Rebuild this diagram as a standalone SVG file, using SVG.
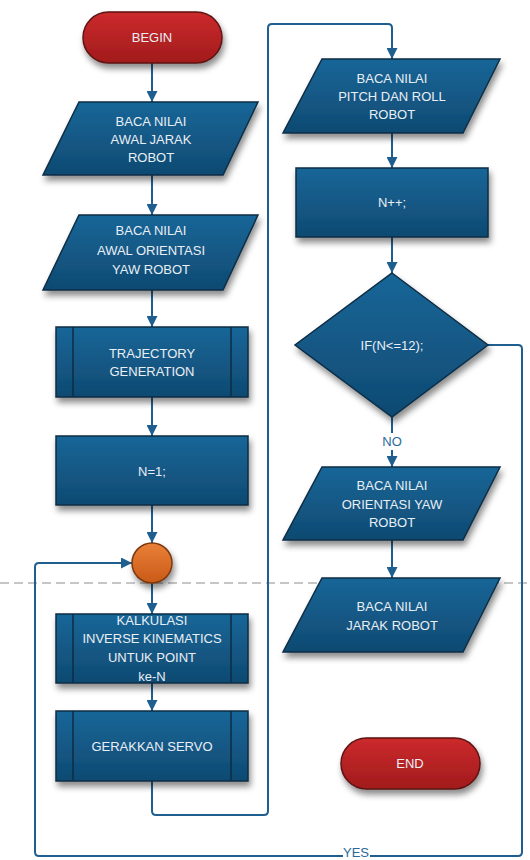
<svg xmlns="http://www.w3.org/2000/svg" width="530" height="860" viewBox="0 0 530 860">
  <defs>
    <linearGradient id="blueFill" x1="0" y1="0" x2="0" y2="1">
      <stop offset="0" stop-color="#186698"/>
      <stop offset="1" stop-color="#0f4a72"/>
    </linearGradient>
    <linearGradient id="redFill" x1="0" y1="0" x2="0" y2="1">
      <stop offset="0" stop-color="#cc2a2c"/>
      <stop offset="1" stop-color="#a11b1c"/>
    </linearGradient>
    <linearGradient id="orangeFill" x1="0" y1="0" x2="0" y2="1">
      <stop offset="0" stop-color="#ea8038"/>
      <stop offset="1" stop-color="#c95a18"/>
    </linearGradient>
    <filter id="shadow" x="-20%" y="-20%" width="140%" height="150%">
      <feDropShadow dx="2" dy="5" stdDeviation="3" flood-color="#000" flood-opacity="0.45"/>
    </filter>
    <marker id="arrow" viewBox="0 0 10 10" refX="10" refY="5" markerWidth="5.5" markerHeight="5.5" orient="auto" markerUnits="strokeWidth">
      <path d="M0,0 L10,5 L0,10 Z" fill="#1f5f8f"/>
    </marker>
  </defs>
  <style>
    .box { fill: url(#blueFill); stroke: #0c2d45; stroke-width: 1.5; filter: url(#shadow); }
    .term { fill: url(#redFill); stroke: #5c1212; stroke-width: 1.5; filter: url(#shadow); }
    .join { fill: url(#orangeFill); stroke: #7a3810; stroke-width: 1.5; filter: url(#shadow); }
    .bar { stroke: #0c2d45; stroke-width: 1.5; }
    .lbl { font-family: "Liberation Sans", Arial, sans-serif; font-size: 13px; fill: #e9eff5; text-anchor: middle; dominant-baseline: central; }
    .flow { fill: none; stroke: #1f5f8f; stroke-width: 2; stroke-linejoin: round; }
    .edge { font-family: "Liberation Sans", Arial, sans-serif; font-size: 13px; fill: #2a6a9a; text-anchor: middle; dominant-baseline: central; }
  </style>

  <rect width="530" height="860" fill="#ffffff"/>

  <!-- swimlane divider -->
  <line x1="0" y1="583" x2="530" y2="583" stroke="#b4b4b4" stroke-width="1.3" stroke-dasharray="9 5"/>

  <!-- connectors -->
  <g id="connectors">
    <path class="flow" d="M152,63 V102" marker-end="url(#arrow)"/>
    <path class="flow" d="M152,175 V215" marker-end="url(#arrow)"/>
    <path class="flow" d="M152,290 V327" marker-end="url(#arrow)"/>
    <path class="flow" d="M152,397 V436" marker-end="url(#arrow)"/>
    <path class="flow" d="M152,505 V543" marker-end="url(#arrow)"/>
    <path class="flow" d="M152,583 V614" marker-end="url(#arrow)"/>
    <path class="flow" d="M152,683 V711" marker-end="url(#arrow)"/>
    <path class="flow" d="M152,781 V811 Q152,815 156,815 H264 Q268,815 268,811 V28 Q268,24 272,24 H388 Q392,24 392,28 V59" marker-end="url(#arrow)"/>
    <path class="flow" d="M392,133 V168" marker-end="url(#arrow)"/>
    <path class="flow" d="M392,237 V273" marker-end="url(#arrow)"/>
    <path class="flow" d="M392,417 V433 M392,450 V467" marker-end="url(#arrow)"/>
    <text class="edge" x="392" y="441">NO</text>
    <path class="flow" d="M392,540 V578" marker-end="url(#arrow)"/>
    <path class="flow" d="M488,345 H518 Q522,345 522,349 V852 Q522,856 518,856 H370 M343,856 H39 Q35,856 35,852 V567 Q35,563 39,563 H132" marker-end="url(#arrow)"/>
    <text class="edge" x="356" y="852">YES</text>
  </g>

  <!-- left column -->
  <g id="begin">
    <rect class="term" x="83" y="12" width="139" height="51" rx="25.5"/>
    <text class="lbl" x="152" y="37">BEGIN</text>
  </g>

  <g id="read-distance">
    <polygon class="box" points="79,102 258,102 223,175 43,175"/>
    <text class="lbl" x="151" y="121">BACA NILAI</text>
    <text class="lbl" x="151" y="139">AWAL JARAK</text>
    <text class="lbl" x="151" y="157">ROBOT</text>
  </g>

  <g id="read-yaw">
    <polygon class="box" points="79,215 258,215 223,290 43,290"/>
    <text class="lbl" x="151" y="230">BACA NILAI</text>
    <text class="lbl" x="151" y="250">AWAL ORIENTASI</text>
    <text class="lbl" x="151" y="269">YAW ROBOT</text>
  </g>

  <g id="trajectory">
    <rect class="box" x="56" y="327" width="192" height="70"/>
    <line class="bar" x1="73" y1="327" x2="73" y2="397"/>
    <line class="bar" x1="231" y1="327" x2="231" y2="397"/>
    <text class="lbl" x="152" y="353">TRAJECTORY</text>
    <text class="lbl" x="152" y="371">GENERATION</text>
  </g>

  <g id="init-n">
    <rect class="box" x="56" y="436" width="192" height="69"/>
    <text class="lbl" x="152" y="471">N=1;</text>
  </g>

  <g id="loop-join">
    <circle class="join" cx="152" cy="563" r="20"/>
  </g>

  <g id="inverse-kinematics">
    <rect class="box" x="56" y="614" width="192" height="69"/>
    <line class="bar" x1="73" y1="614" x2="73" y2="683"/>
    <line class="bar" x1="231" y1="614" x2="231" y2="683"/>
    <text class="lbl" x="152" y="620">KALKULASI</text>
    <text class="lbl" x="152" y="638">INVERSE KINEMATICS</text>
    <text class="lbl" x="152" y="657">UNTUK POINT</text>
    <text class="lbl" x="152" y="676">ke-N</text>
  </g>

  <g id="move-servo">
    <rect class="box" x="56" y="711" width="192" height="70"/>
    <line class="bar" x1="73" y1="711" x2="73" y2="781"/>
    <line class="bar" x1="231" y1="711" x2="231" y2="781"/>
    <text class="lbl" x="152" y="746">GERAKKAN SERVO</text>
  </g>

  <!-- right column -->
  <g id="read-pitch-roll">
    <polygon class="box" points="322,59 500,59 463,133 283,133"/>
    <text class="lbl" x="392" y="78">BACA NILAI</text>
    <text class="lbl" x="392" y="96">PITCH DAN ROLL</text>
    <text class="lbl" x="392" y="114">ROBOT</text>
  </g>

  <g id="increment-n">
    <rect class="box" x="296" y="168" width="192" height="69"/>
    <text class="lbl" x="392" y="202">N++;</text>
  </g>

  <g id="check-n">
    <polygon class="box" points="392,273 488,345 392,417 295,345"/>
    <text class="lbl" x="392" y="345">IF(N&lt;=12);</text>
  </g>

  <g id="read-yaw-final">
    <polygon class="box" points="322,467 500,467 463,540 283,540"/>
    <text class="lbl" x="392" y="485">BACA NILAI</text>
    <text class="lbl" x="392" y="504">ORIENTASI YAW</text>
    <text class="lbl" x="392" y="522">ROBOT</text>
  </g>

  <g id="read-distance-final">
    <polygon class="box" points="322,578 500,578 463,652 283,652"/>
    <text class="lbl" x="392" y="606">BACA NILAI</text>
    <text class="lbl" x="392" y="625">JARAK ROBOT</text>
  </g>

  <g id="end">
    <rect class="term" x="341" y="738" width="139" height="51" rx="25.5"/>
    <text class="lbl" x="410" y="763">END</text>
  </g>
</svg>
